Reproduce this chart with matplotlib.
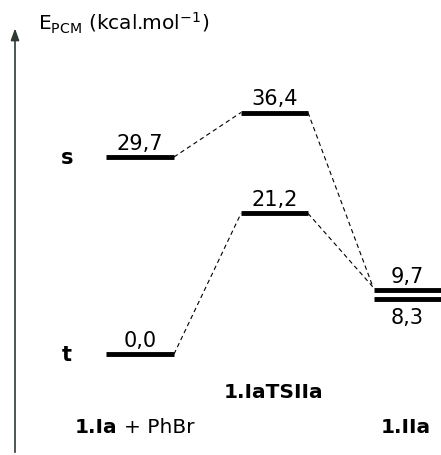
import matplotlib.pyplot as plt

## data (kcal/mol)
species = ['1.Ia', '1.IaTSIIa', '1.IIa']
reagent = '+ PhBr'
singlet = [29.7, 36.4, 9.7]
triplet = [0.0, 21.2, 8.3]
spin_labels = ['s', 't']

## layout (x in pixel-like units of a 441 px wide canvas)
x_left = [106, 241, 374]
x_right = [174, 308, 441]
name_x = [117, 273, 406]
name_ha = ['right', 'center', 'center']
name_y = [-10.9, -5.6, -10.9]

fig = plt.figure(figsize=(4.41, 4.56), dpi=100)
ax = fig.add_axes([0, 0, 1, 1])
ax.set_xlim(0, 441)
ax.set_ylim(-15.2, 53.5)
ax.axis('off')

def fmt(v):
    return ('%.1f' % v).replace('.', ',')

# energy levels
for i in range(3):
    for val, below in ((singlet[i], False), (triplet[i], i == 2)):
        ax.plot([x_left[i], x_right[i]], [val, val], color='black', lw=3.5,
                solid_capstyle='butt')
        cx = (x_left[i] + x_right[i]) / 2
        if below:
            ax.annotate(fmt(val), (cx, val), xytext=(0, -6), textcoords='offset points',
                        ha='center', va='top', fontsize=15)
        else:
            ax.annotate(fmt(val), (cx, val), xytext=(0, 3), textcoords='offset points',
                        ha='center', va='bottom', fontsize=15)

# dashed connectors (both end at the upper product level)
end_y = max(singlet[2], triplet[2]) + 0.4
for series in (singlet, triplet):
    ax.plot([x_right[0], x_left[1]], [series[0], series[1]], 'k--', lw=0.8, dashes=(4, 3))
    ax.plot([x_right[1], x_left[2] - 1], [series[1], end_y], 'k--', lw=0.8, dashes=(4, 3))

# spin state labels
ax.text(67, singlet[0], spin_labels[0], ha='center', va='center', fontsize=15, fontweight='bold')
ax.text(67, triplet[0], spin_labels[1], ha='center', va='center', fontsize=15, fontweight='bold')

# species names
for i in range(3):
    ax.text(name_x[i], name_y[i], species[i], ha=name_ha[i], va='center',
            fontsize=14.5, fontweight='bold')
ax.text(124, name_y[0], reagent, ha='left', va='center', fontsize=14.5)

# energy axis arrow
ax.annotate('', xy=(15, 49.5), xytext=(15, -15.2),
            arrowprops=dict(arrowstyle='-|>,head_length=0.7,head_width=0.25',
                            color='#2f3a32', lw=1.2))
ax.text(38, 50.0, 'E$_{\\mathregular{PCM}}$ (kcal.mol$^{\\mathregular{-1}}$)',
        ha='left', va='center', fontsize=14.5)

fig.savefig('out.png', dpi=100)
